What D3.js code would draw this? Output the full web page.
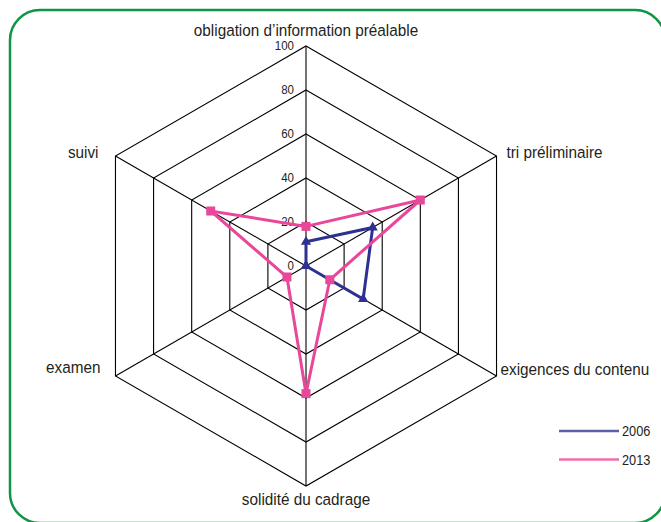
<!DOCTYPE html>
<html><head><meta charset="utf-8">
<script src="https://cdn.jsdelivr.net/npm/d3@7"></script>
<style>
html,body{margin:0;padding:0;background:#fff;}
text{font-family:"Liberation Sans",Arial,sans-serif;fill:#231f20;}
</style></head><body>
<svg id="c" width="661" height="522"></svg>
<script>
const axes = ["obligation d\u2019information préalable","tri préliminaire","exigences du contenu","solidité du cadrage","examen","suivi"];
const series2006 = [11, 35, 30, 0, 0, 0];
const series2013 = [18, 60, 12.5, 58, 10, 50];
const ticks = [0, 20, 40, 60, 80, 100];
const seriesNames = ["2006", "2013"];
const colors = ["#2e3192", "#e8479a"];
const legendColors = ["#5b5ea8", "#ef6fac"];

const svg = d3.select("#c");
svg.append("rect").attr("x",10).attr("y",10).attr("width",655).attr("height",513)
  .attr("rx",30).attr("ry",30).attr("fill","none").attr("stroke","#119447").attr("stroke-width",2.5);

const cx = 306, cy = 266, R = 220;
const r = d3.scaleLinear().domain([0,100]).range([0,R]);
const ang = d3.scalePoint().domain(axes.map((d,i)=>i)).range([0, 2*Math.PI*5/6]);
const pt = (i,v) => [cx + r(v)*Math.sin(ang(i)), cy - r(v)*Math.cos(ang(i))];

function ntext(sel, x, y, size, sx, anchor, str){
  return sel.append("text").attr("transform",`translate(${x},${y}) scale(${sx},1)`)
    .attr("text-anchor",anchor).attr("font-size",size).text(str);
}

const g = svg.append("g");
ticks.slice(1).forEach(t=>{
  g.append("path").attr("d", d3.line()(axes.map((a,i)=>pt(i,t))) + "Z")
   .attr("fill","none").attr("stroke","#000").attr("stroke-width",1.1);
});
axes.forEach((a,i)=>{
  const [x,y]=pt(i,100);
  g.append("line").attr("x1",cx).attr("y1",cy).attr("x2",x).attr("y2",y)
   .attr("stroke","#000").attr("stroke-width",1.1);
});
ticks.forEach(t=>{
  const [x,y]=pt(0,t);
  ntext(g, x-12, y+4, 12.5, 0.92, "end", t);
});
const lab = [
  {dx:0, dy:-10, anchor:"middle"},
  {dx:10, dy:2, anchor:"start"},
  {dx:4, dy:-1, anchor:"start"},
  {dx:0, dy:19, anchor:"middle"},
  {dx:-15, dy:-3, anchor:"end"},
  {dx:-17, dy:2, anchor:"end"}
];
axes.forEach((a,i)=>{
  const [x,y]=pt(i,100);
  ntext(g, x+lab[i].dx, y+lab[i].dy, 17, 0.9, lab[i].anchor, a);
});

const data = [series2006, series2013];
data.forEach((s,k)=>{
  const pts = s.map((v,i)=>pt(i,v));
  g.append("path").attr("d", d3.line()(pts)+"Z").attr("fill","none")
   .attr("stroke",colors[k]).attr("stroke-width",3).attr("stroke-linejoin","miter");
  pts.forEach(p=>{
    if(k===0){
      g.append("path").attr("d", d3.symbol(d3.symbolTriangle, 45)()).attr("transform",`translate(${p[0]},${p[1]})`).attr("fill",colors[k]);
    } else {
      g.append("rect").attr("x",p[0]-4.5).attr("y",p[1]-4.5).attr("width",9).attr("height",9).attr("fill",colors[k]);
    }
  });
});

seriesNames.forEach((n,k)=>{
  const y = 431 + k*28.5;
  svg.append("line").attr("x1",559).attr("x2",619).attr("y1",y).attr("y2",y)
    .attr("stroke",legendColors[k]).attr("stroke-width",2.5);
  ntext(svg, 622, y+5, 14.5, 0.88, "start", n);
});
</script></body></html>
